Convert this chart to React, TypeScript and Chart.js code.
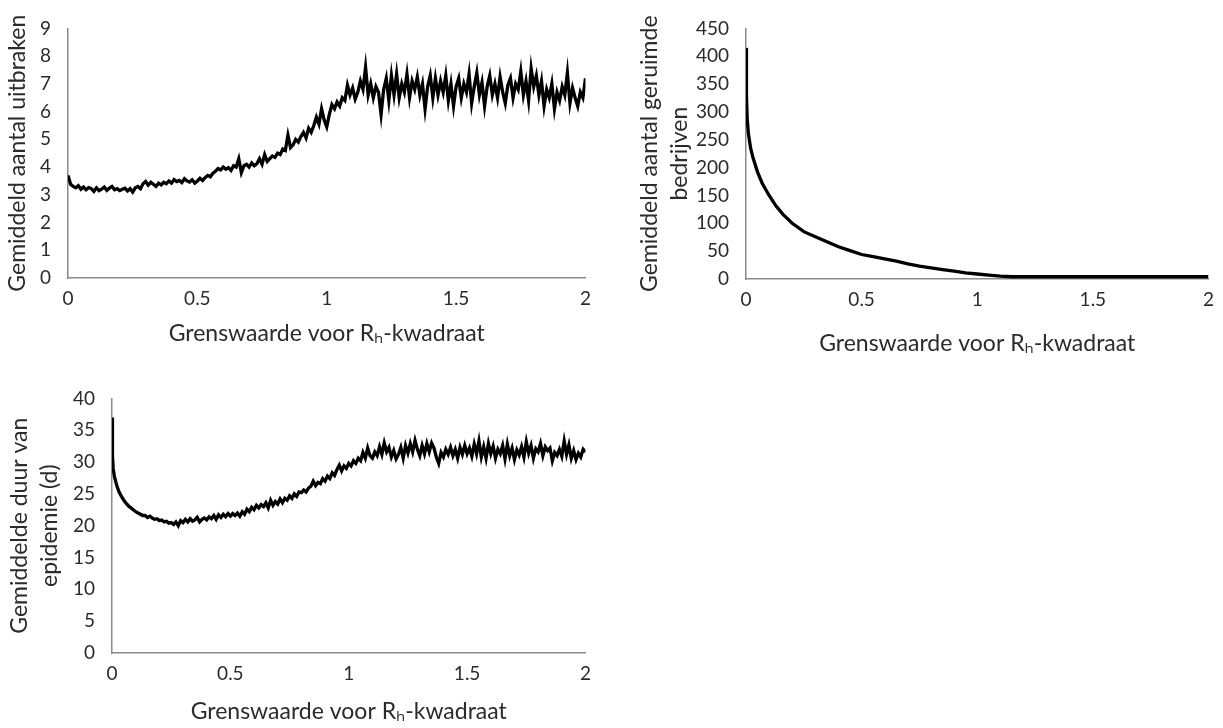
import React, { useEffect, useRef } from 'react';
import { Chart, registerables } from 'chart.js';
Chart.register(...registerables);

// ---------- data ----------
const xTickLabels = ['0', '0.5', '1', '1.5', '2'];
const xTitle = 'Grenswaarde voor Rₕ-kwadraat';

// Chart 1: Gemiddeld aantal uitbraken, x = 0.00 .. 2.00 step 0.01
const outbreakValues = [
  3.70, 3.38, 3.30, 3.25, 3.33, 3.20, 3.28, 3.18, 3.26, 3.22, 3.12, 3.25, 3.15, 3.20, 3.28, 3.16, 3.24, 3.30, 3.18, 3.22, 3.15,
  3.20, 3.24, 3.14, 3.22, 3.10, 3.25, 3.30, 3.22, 3.40, 3.48, 3.35, 3.45, 3.38, 3.30, 3.42, 3.36, 3.45, 3.40, 3.50, 3.42,
  3.55, 3.48, 3.52, 3.44, 3.58, 3.50, 3.46, 3.54, 3.42, 3.50, 3.60, 3.52, 3.62, 3.70, 3.65, 3.78, 3.85, 3.95, 3.90, 4.00,
  3.92, 3.98, 3.88, 4.05, 4.00, 4.30, 3.80, 4.05, 4.10, 4.00, 4.15, 4.05, 4.12, 4.30, 4.10, 4.45, 4.20, 4.30, 4.40, 4.35,
  4.50, 4.45, 4.65, 4.60, 5.15, 4.70, 4.80, 5.00, 4.90, 5.10, 5.25, 5.05, 5.40, 5.25, 5.50, 5.80, 5.55, 6.10, 5.70, 5.45,
  5.90, 6.25, 6.10, 6.35, 6.20, 6.50, 6.40, 6.95, 6.60, 6.85, 6.45, 6.70, 7.10, 6.80, 7.60, 6.60, 7.00, 6.50, 6.90, 6.70,
  5.90, 6.80, 7.20, 6.40, 7.30, 6.60, 7.35, 6.50, 7.00, 6.70, 7.35, 6.50, 7.10, 6.80, 7.25, 6.60, 7.00, 6.10, 6.90, 7.30,
  6.50, 7.20, 6.60, 7.10, 6.70, 7.30, 6.40, 7.00, 6.20, 6.90, 7.20, 6.50, 7.00, 6.70, 7.35, 6.30, 6.90, 7.40, 6.60, 7.05,
  6.20, 6.90, 7.30, 6.60, 7.00, 6.50, 7.25, 6.70, 6.30, 6.95, 7.20, 6.50, 7.00, 6.80, 7.45, 6.60, 7.10, 6.40, 7.55, 6.90,
  7.30, 6.60, 7.10, 6.20, 6.80, 6.50, 7.00, 6.10, 6.70, 6.40, 6.90, 6.60, 7.40, 6.30, 6.85, 6.50, 6.20, 6.70, 6.50, 7.20,
];

// Chart 2: Gemiddeld aantal geruimde bedrijven
const cullX = [0, 0.002, 0.005, 0.01, 0.02, 0.03, 0.05, 0.07, 0.1, 0.13, 0.16, 0.2, 0.25, 0.3, 0.35, 0.4, 0.45, 0.5, 0.55, 0.6, 0.65, 0.7, 0.75, 0.8, 0.85, 0.9, 0.95, 1.0, 1.05, 1.1, 1.15, 1.2, 1.4, 1.6, 1.8, 2.0];
const cullValues = [415, 330, 290, 262, 235, 218, 192, 172, 150, 131, 116, 100, 85, 76, 67, 58, 51, 44, 40, 36, 32, 27, 23, 20, 17, 14, 11, 9, 7, 5, 4, 4, 4, 4, 4, 4];

// Chart 3: Gemiddelde duur van epidemie (d)
const durationHeadX = [0, 0.002, 0.005];
const durationHeadValues = [37, 31, 29];
// x = 0.01 .. 2.00 step 0.01
const durationValues = [
  27.8, 26.3, 25.3, 24.6, 24.0, 23.5, 23.1, 22.8, 22.5, 22.2, 22.0, 21.8, 21.6, 21.6, 21.3, 21.5, 21.2, 21.0, 21.1, 20.8,
  20.9, 20.6, 20.7, 20.4, 20.5, 20.2, 20.6, 20.0, 20.8, 20.5, 21.0, 20.6, 21.1, 20.7, 20.9, 21.3, 20.6, 21.0, 21.2, 20.9,
  21.4, 21.1, 21.6, 21.0, 21.7, 21.3, 21.8, 21.4, 21.9, 21.5, 21.9, 21.6, 22.0, 21.5, 22.2, 21.8, 22.6, 22.2, 22.9, 22.5,
  23.2, 22.8, 23.3, 23.0, 23.6, 22.8, 24.0, 23.2, 23.8, 23.4, 24.2, 23.6, 24.3, 24.0, 24.7, 24.3, 25.0, 24.6, 25.3, 25.2,
  25.6, 25.3, 25.9, 26.2, 27.0, 26.3, 26.8, 26.6, 27.4, 27.0, 27.8, 27.4, 28.3, 27.9, 28.8, 29.5, 28.6, 29.4, 29.0, 29.8,
  29.4, 30.2, 29.8, 30.6, 30.2, 31.5, 30.6, 32.2, 31.0, 30.6, 31.6, 31.0, 32.4, 31.2, 33.0, 31.6, 32.3, 30.8, 31.8, 30.5,
  31.2, 32.3, 30.6, 32.6, 31.4, 32.9, 31.6, 33.4, 32.0, 31.0, 32.6, 31.3, 32.9, 31.6, 33.0, 32.2, 30.8, 29.8, 31.5, 30.8,
  32.0, 31.2, 32.3, 31.0, 32.0, 30.6, 32.3, 31.2, 32.6, 31.3, 32.2, 30.9, 32.8, 31.3, 33.3, 30.8, 32.4, 30.6, 32.9, 31.3,
  32.5, 30.6, 32.0, 31.3, 32.6, 30.5, 32.8, 31.0, 32.2, 30.4, 31.9, 31.1, 32.4, 30.8, 33.2, 31.4, 32.6, 30.6, 32.1, 31.6,
  32.9, 31.0, 32.4, 31.8, 32.2, 30.2, 31.5, 31.0, 32.0, 30.9, 33.3, 31.2, 32.7, 30.6, 31.8, 30.4, 31.4, 30.8, 32.0, 31.6,
];

// ---------- helpers ----------
const FONT = 'Lato, "Open Sans", "DejaVu Sans", sans-serif';
const TEXT = '#2b2b2b';
const AXIS = '#8a8a8a';

type PanelSpec = {
  left: number; top: number; width: number; height: number;
  points: { x: number; y: number }[];
  yMax: number; yStep: number;
  yTitle: string | string[];
  yTitleLH: number; yTitlePad: number;
  yAxisWidth: number; xAxisHeight: number; xTitlePad: number;
  padTop: number; padRight: number;
};

function makeConfig(s: PanelSpec): any {
  return {
    type: 'line',
    data: {
      datasets: [{
        data: s.points,
        borderColor: '#000000',
        borderWidth: 3.3,
        pointRadius: 0,
        tension: 0,
        fill: false,
      }],
    },
    options: {
      animation: false,
      responsive: false,
      maintainAspectRatio: false,
      parsing: false,
      normalized: true,
      layout: { padding: { left: 0, top: s.padTop, right: s.padRight, bottom: 0 } },
      plugins: { legend: { display: false }, tooltip: { enabled: false } },
      scales: {
        x: {
          type: 'linear', min: 0, max: 2,
          grid: { display: false, drawTicks: false },
          border: { display: true, color: AXIS, width: 1.5 },
          ticks: {
            stepSize: 0.5, padding: 9, color: TEXT,
            font: { family: FONT, size: 19 },
            callback: (v: number) => xTickLabels[Math.round(v * 2)] ?? '',
          },
          title: {
            display: true, text: xTitle, color: TEXT,
            font: { family: FONT, size: 23, lineHeight: 1.2 },
            padding: { top: 0, bottom: s.xTitlePad },
          },
          afterFit: (sc: any) => { sc.height = s.xAxisHeight; },
        },
        y: {
          type: 'linear', min: 0, max: s.yMax,
          grid: { display: false, drawTicks: false },
          border: { display: true, color: AXIS, width: 1.5 },
          ticks: {
            stepSize: s.yStep, padding: 17, color: TEXT, autoSkip: false,
            font: { family: FONT, size: 19 },
          },
          title: {
            display: true, text: s.yTitle, color: TEXT,
            font: { family: FONT, size: 23, lineHeight: s.yTitleLH },
            padding: { top: s.yTitlePad, bottom: 0 },
          },
          afterFit: (sc: any) => { sc.width = s.yAxisWidth; },
        },
      },
    },
  };
}

function Panel({ spec }: { spec: PanelSpec }) {
  const ref = useRef<HTMLCanvasElement | null>(null);
  useEffect(() => {
    if (!ref.current) return;
    const chart = new Chart(ref.current, makeConfig(spec));
    return () => chart.destroy();
  }, [spec]);
  return (
    <canvas
      ref={ref}
      width={spec.width}
      height={spec.height}
      style={{ position: 'absolute', left: spec.left, top: spec.top, width: spec.width, height: spec.height }}
    />
  );
}

const outbreakPoints = outbreakValues.map((y, i) => ({ x: i / 100, y }));
const cullPoints = cullValues.map((y, i) => ({ x: cullX[i], y }));
const durationPoints = [
  ...durationHeadValues.map((y, i) => ({ x: durationHeadX[i], y })),
  ...durationValues.map((y, i) => ({ x: (i + 1) / 100, y })),
];

const specs: PanelSpec[] = [
  {
    left: 0, top: 0, width: 600, height: 350, points: outbreakPoints,
    yMax: 9, yStep: 1, yTitle: 'Gemiddeld aantal uitbraken', yTitleLH: 1.2, yTitlePad: 4,
    yAxisWidth: 68, xAxisHeight: 72, xTitlePad: 3, padTop: 16, padRight: 14,
  },
  {
    left: 610, top: 0, width: 613, height: 360, points: cullPoints,
    yMax: 450, yStep: 50, yTitle: ['Gemiddeld aantal geruimde', 'bedrijven'], yTitleLH: 1.3, yTitlePad: 25,
    yAxisWidth: 136, xAxisHeight: 81, xTitlePad: 3, padTop: 18, padRight: 12,
  },
  {
    left: 0, top: 370, width: 600, height: 358, points: durationPoints,
    yMax: 40, yStep: 5, yTitle: ['Gemiddelde duur van', 'epidemie (d)'], yTitleLH: 1.3, yTitlePad: 5,
    yAxisWidth: 112, xAxisHeight: 75, xTitlePad: 3, padTop: 26, padRight: 13,
  },
];

export default function App() {
  return (
    <div style={{ position: 'absolute', left: 0, top: 0, width: 1223, height: 728, background: '#ffffff', overflow: 'hidden' }}>
      {specs.map((s, i) => <Panel key={i} spec={s} />)}
    </div>
  );
}
